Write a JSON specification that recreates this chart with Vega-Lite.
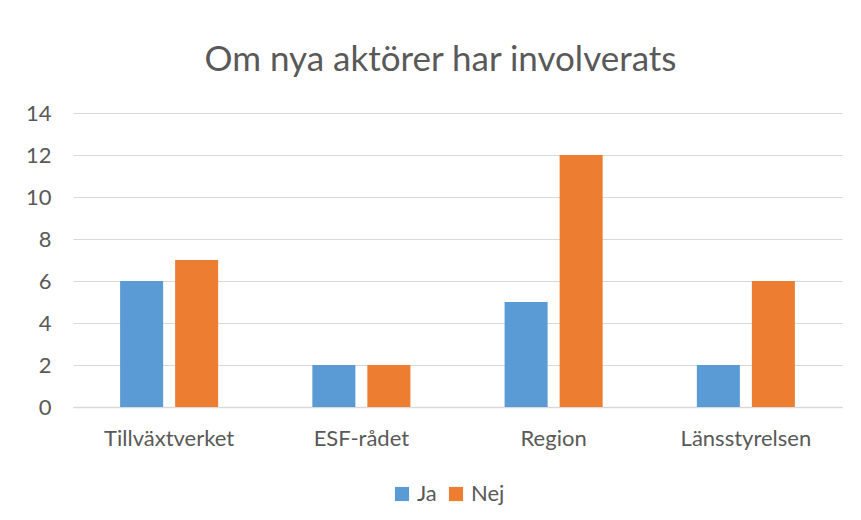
{
  "$schema": "https://vega.github.io/schema/vega-lite/v6.json",
  "width": 769,
  "height": 294,
  "autosize": "none",
  "padding": {"left": 73, "top": 113, "right": 19, "bottom": 113},
  "background": "white",
  "title": {
    "text": "Om nya aktörer har involverats",
    "font": "Lato",
    "fontSize": 35,
    "fontWeight": "normal",
    "color": "#595959",
    "anchor": "middle",
    "dx": -17,
    "offset": 24
  },
  "data": {
    "values": [
      {"kategori": "Tillväxtverket", "svar": "Ja", "antal": 6},
      {"kategori": "Tillväxtverket", "svar": "Nej", "antal": 7},
      {"kategori": "ESF-rådet", "svar": "Ja", "antal": 2},
      {"kategori": "ESF-rådet", "svar": "Nej", "antal": 2},
      {"kategori": "Region", "svar": "Ja", "antal": 5},
      {"kategori": "Region", "svar": "Nej", "antal": 12},
      {"kategori": "Länsstyrelsen", "svar": "Ja", "antal": 2},
      {"kategori": "Länsstyrelsen", "svar": "Nej", "antal": 6}
    ]
  },
  "mark": {"type": "bar"},
  "encoding": {
    "x": {
      "field": "kategori",
      "type": "nominal",
      "sort": ["Tillväxtverket", "ESF-rådet", "Region", "Länsstyrelsen"],
      "scale": {"paddingInner": 0.49, "paddingOuter": 0.245},
      "axis": {
        "title": null,
        "labelAngle": 0,
        "labelFont": "Lato",
        "labelFontSize": 22,
        "labelColor": "#595959",
        "labelPadding": 21,
        "ticks": false,
        "domainColor": "#d9d9d9",
        "domainWidth": 1.5,
        "grid": false
      }
    },
    "xOffset": {
      "field": "svar",
      "type": "nominal",
      "sort": ["Ja", "Nej"],
      "scale": {"paddingInner": 0.218, "paddingOuter": 0}
    },
    "y": {
      "field": "antal",
      "type": "quantitative",
      "scale": {"domain": [0, 14], "nice": false},
      "axis": {
        "title": null,
        "values": [0, 2, 4, 6, 8, 10, 12, 14],
        "labelFont": "Lato",
        "labelFontSize": 22,
        "labelColor": "#595959",
        "labelPadding": 22,
        "ticks": false,
        "domain": false,
        "gridColor": "#d9d9d9",
        "gridWidth": 1.2
      }
    },
    "color": {
      "field": "svar",
      "type": "nominal",
      "sort": ["Ja", "Nej"],
      "scale": {"domain": ["Ja", "Nej"], "range": ["#5b9bd5", "#ed7d31"]},
      "legend": {
        "title": null,
        "orient": "none",
        "direction": "horizontal",
        "legendX": 318,
        "legendY": 370,
        "symbolType": "square",
        "symbolSize": 200,
        "symbolStrokeWidth": 0,
        "labelFont": "Lato",
        "labelFontSize": 22,
        "labelColor": "#595959",
        "columnPadding": 8,
        "labelOffset": 4
      }
    }
  },
  "config": {
    "view": {"stroke": null},
    "axisY": {"zindex": 0}
  }
}
